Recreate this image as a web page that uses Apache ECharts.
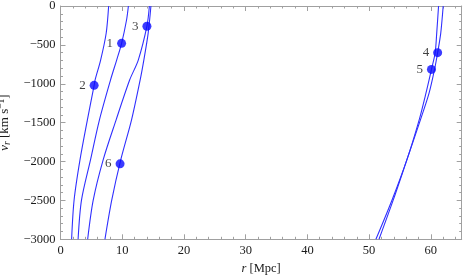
<!DOCTYPE html>
<html>
<head>
<meta charset="utf-8">
<script src="https://cdn.jsdelivr.net/npm/echarts@6/dist/echarts.min.js"></script>
<style>
html,body{margin:0;padding:0;background:#fff;}
#chart{width:463px;height:277px;}
</style>
</head>
<body>
<div id="chart"></div>
<script>
// Curves: [r (Mpc), v_r (km/s)]
var curveA = [[7.8,0],[7.4,-350],[6.5,-695],[5.6,-952],[5.45,-1020],[4.35,-1467],[3.15,-1982],[2.2,-2497],[1.8,-3000]];
var curveB = [[11.0,0],[10.7,-180],[9.9,-480],[9.1,-695],[8.1,-952],[6.3,-1467],[4.85,-1982],[3.4,-2497],[2.85,-3000]];
var curveC = [[14.4,0],[14.0,-260],[12.6,-695],[11.2,-952],[9.0,-1467],[6.9,-1982],[5.3,-2497],[4.4,-3000]];
var curveD = [[14.65,0],[14.2,-352],[13.5,-695],[12.9,-952],[11.5,-1467],[9.75,-1982],[8.3,-2497],[7.2,-3000]];
var curveE = [[61.25,0],[60.95,-352],[60.7,-601],[60.1,-815],[59.2,-1124],[58.1,-1467],[56.1,-1982],[53.7,-2497],[51.1,-3000]];
var curveF = [[62.0,0],[61.6,-352],[61.1,-601],[60.6,-815],[59.7,-1124],[58.3,-1467],[56.1,-1982],[53.9,-2497],[51.6,-3000]];
var pointNames = ['1','2','3','4','5','6'];
var pointR = [9.9, 5.45, 14.0, 61.1, 60.1, 9.65];
var pointV = [-480, -1020, -260, -600, -815, -2030];
var xTicks = {min:0, max:65, interval:10};
var yTicks = {min:-3000, max:0, interval:500};

var FONT = '"Liberation Serif", "DejaVu Serif", serif';
var frameColor = '#a0a0a0';
var lineColor = '#3030ff';

function fmt(v){ return String(v).replace('-', '\u2212'); }

function axisCommon(showLabel){
  return {
    axisLine:{show:true, onZero:false, lineStyle:{color:frameColor, width:1}},
    axisTick:{show:true, inside:true, length:5, lineStyle:{color:frameColor}},
    minorTick:{show:true, splitNumber:5, length:2.5, lineStyle:{color:frameColor}},
    splitLine:{show:false},
    axisLabel:{show:showLabel, color:'#1a1a1a', fontFamily:FONT, fontSize:12.5, formatter:fmt}
  };
}

var xb = Object.assign({type:'value', position:'bottom', min:xTicks.min, max:xTicks.max, interval:xTicks.interval,
  name:'{i|r} [Mpc]', nameLocation:'middle', nameGap:22,
  nameTextStyle:{color:'#1a1a1a', fontFamily:FONT, fontSize:12.5, rich:{i:{fontStyle:'italic', fontFamily:FONT, fontSize:12.5, color:'#1a1a1a'}}}
}, axisCommon(true));
xb.axisLabel.margin = 5;
xb.axisLabel.showMaxLabel = false;
var xt = Object.assign({type:'value', position:'top', min:xTicks.min, max:xTicks.max, interval:xTicks.interval}, axisCommon(false));
var yl = Object.assign({type:'value', position:'left', min:yTicks.min, max:yTicks.max, interval:yTicks.interval,
  name:'{i|v}{sub|r} [km s{sup|\u22121}]', nameLocation:'middle', nameGap:47,
  nameTextStyle:{color:'#1a1a1a', fontFamily:FONT, fontSize:13, rich:{
    i:{fontStyle:'italic', fontFamily:FONT, fontSize:13.5, color:'#1a1a1a'},
    sub:{fontStyle:'italic', fontFamily:FONT, fontSize:9.5, color:'#1a1a1a', padding:[6,0,0,0]},
    sup:{fontFamily:FONT, fontSize:9.5, color:'#1a1a1a', padding:[0,0,6,0]}
  }}
}, axisCommon(true));
yl.axisLabel.margin = 5;
var yr = Object.assign({type:'value', position:'right', min:yTicks.min, max:yTicks.max, interval:yTicks.interval}, axisCommon(false));

function lineSeries(data){
  return {type:'line', data:data, xAxisIndex:0, yAxisIndex:0, smooth:0.3,
    showSymbol:false, symbol:'none', lineStyle:{color:lineColor, width:1.1}, silent:true, animation:false};
}

var pts = pointNames.map(function(n,i){ return {name:n, value:[pointR[i], pointV[i]]}; });

var option = {
  animation:false,
  grid:{left:60.5, right:1.3, top:6, bottom:37.7, containLabel:false, outerBoundsMode:'none'},
  xAxis:[xb, xt],
  yAxis:[yl, yr],
  series:[
    lineSeries(curveA), lineSeries(curveB), lineSeries(curveC),
    lineSeries(curveD), lineSeries(curveE), lineSeries(curveF),
    {type:'scatter', data:pts, xAxisIndex:0, yAxisIndex:0, symbol:'circle', symbolSize:9,
     itemStyle:{color:'#0a0aff'}, z:5,
     label:{show:true, position:'left', distance:4, formatter:'{b}', color:'#111', fontFamily:FONT, fontSize:13}}
  ]
};
var chart = echarts.init(document.getElementById('chart'), null, {renderer:'canvas'});
chart.setOption(option);
</script>
</body>
</html>
